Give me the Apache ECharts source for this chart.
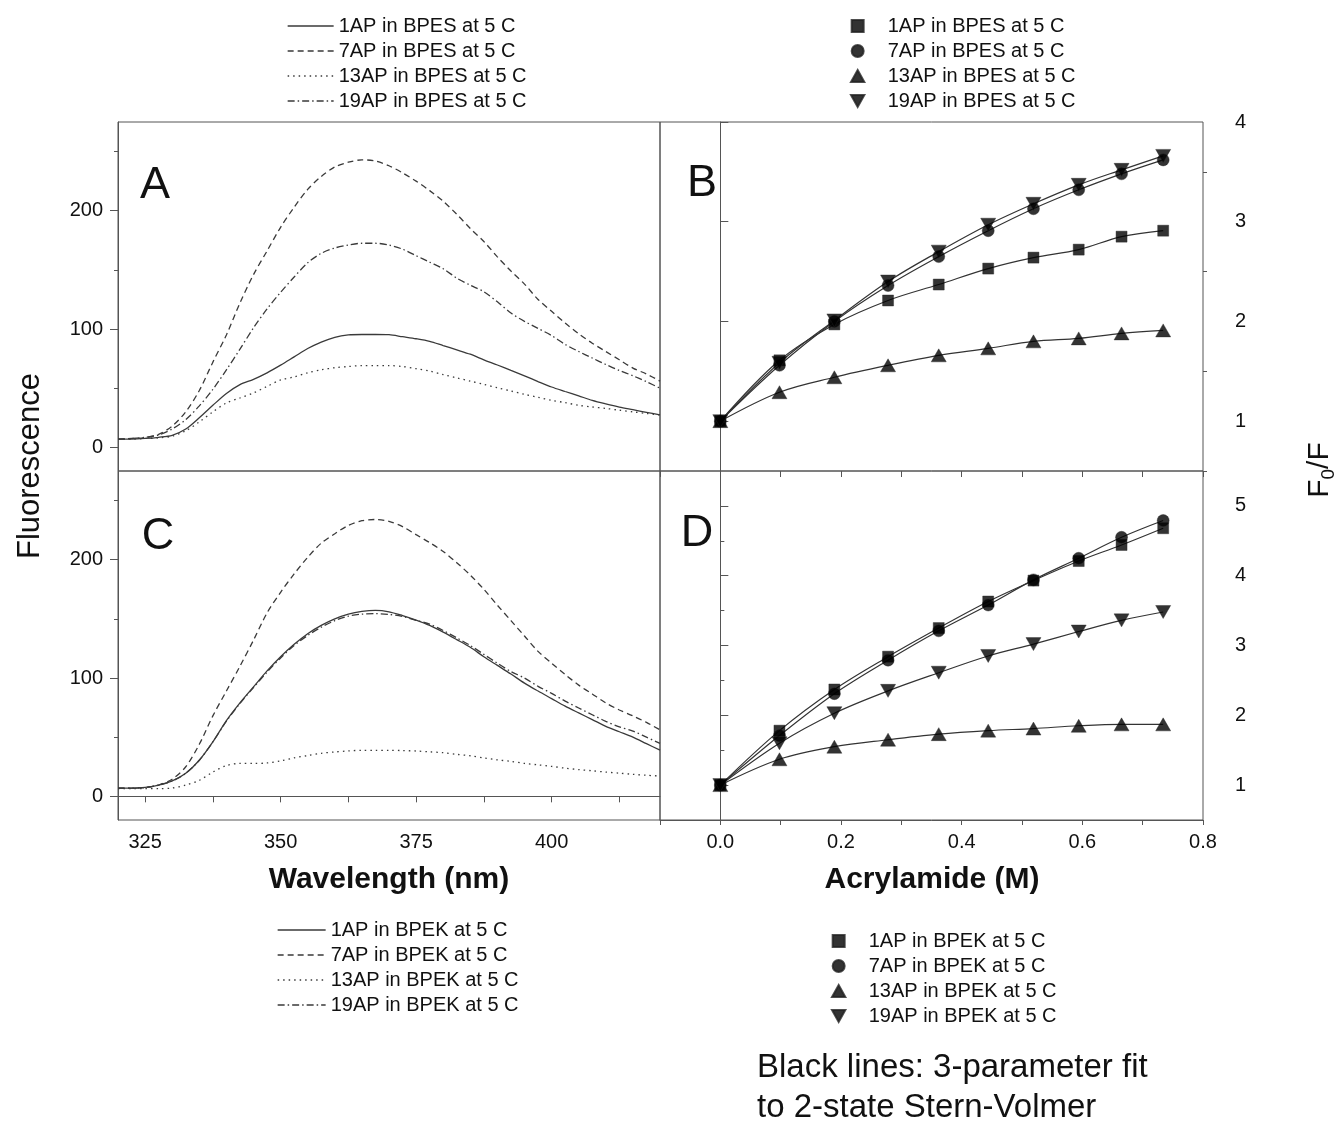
<!DOCTYPE html>
<html>
<head>
<meta charset="utf-8">
<script src="https://cdn.jsdelivr.net/npm/echarts@6/dist/echarts.min.js"></script>
<style>
html,body{margin:0;padding:0;background:#fff;}
#chart{width:1341px;height:1125px;}
</style>
</head>
<body>
<div id="chart"></div>
<script>
// ---------- DATA ----------
const wavelength = [320,322.5,325,327.5,330,332.5,335,337.5,340,342.5,345,347.5,350,352.5,355,357.5,360,362.5,365,367.5,370,372.5,375,377.5,380,382.5,385,387.5,390,392.5,395,397.5,400,402.5,405,407.5,410,412.5,415,417.5,420];

// Panel A (BPES spectra)
const A_1AP  = [7,7,7.5,8.5,10.2,15.5,25,35.5,45.5,53,57.5,63,69.5,76.5,83.5,89,93,95,95.4,95.4,95.2,93.5,91.8,89.6,86,82.4,78.7,74,69.6,65,60.4,55.6,51,47.2,43.5,39.7,36.7,34,31.8,29.6,27.4];
const A_7AP  = [7,7.5,8,11,18,30,48,72,95,122,146,166,186,203,218,229,237,241,243,242,238,232,225,217,208,197,185,174,161,149,138,125,115,105,96,88,81,74,67,62,56];
const A_13AP = [7,7,7.5,8,9.5,14,21.5,30,37.5,41.7,46,51.5,57,59.5,63,65.5,67.3,68.3,69.1,69.1,69.1,68.3,66.5,64.5,61.5,58.7,56,53.2,50.4,47.6,44.8,42.3,39.7,37.8,35.5,34.1,32.9,31.4,30,28.6,27.4];
const A_19AP = [7,7.5,8.5,10.5,15.5,23.5,35,49,65.5,83,101,117,131,144,156,164,168.5,171,172.5,172.5,171,167.5,162,156.5,151,143,137,131.5,123,113.5,106.5,100.5,94.5,87,81,75.5,70,65,60.5,55.5,50];

// Panel C (BPEK spectra)
const C_1AP  = [7,7,7.5,9.5,13,19.5,30.5,46,64,79,92.5,106,118,128.5,137.5,144.5,150,154,156.3,157.2,156,152.8,149,144.5,138.8,132.5,126,118,110.7,103.4,95.7,89,82.6,76.2,70.5,64.9,59.2,54.6,50,44.5,39.1];
const C_7AP  = [7,7,7.5,9.5,14.5,25,44,68,89,110,132,155,172.5,188,202,214,222,229,233,234,232.5,228,221.2,214.5,207,197.5,187,175,161.5,148.5,135.5,122.5,112.5,103,94,86.5,79,73,68,62.5,56.2];
const C_13AP = [6.5,6.5,6.5,6.5,7,9.5,13.5,20.5,26,27.8,27.8,28.2,30,32.5,34.5,36.4,37.5,38.4,38.9,38.9,38.9,38.7,38.3,37.6,36.9,35.5,34.3,32.5,30.8,29.6,27.8,26.6,25.3,23.8,22.6,21.6,20.5,19.6,18.6,17.8,17.2];
const C_19AP = [7,7,7.5,9.5,13,19.5,30.5,46,63.5,78.5,92,105,117,127.5,136,143,148.5,152.3,154,154.4,153.8,152,148.8,145.5,140.2,134,127.5,120,112.5,105.5,100,93,87,80.5,74.7,69,63.4,58.7,55.2,50,44.8];

// Panels B and D (Stern-Volmer)
const acrylamide = [0,0.098,0.189,0.278,0.362,0.444,0.519,0.594,0.665,0.734];
const B_1AP  = [1,1.61,1.97,2.21,2.37,2.53,2.64,2.72,2.85,2.91];
const B_7AP  = [1,1.56,2.0,2.36,2.65,2.91,3.13,3.32,3.48,3.62];
const B_13AP = [1,1.29,1.44,1.56,1.66,1.73,1.80,1.83,1.88,1.91];
const B_19AP = [1,1.585,2.01,2.40,2.70,2.97,3.18,3.37,3.52,3.66];
const D_1AP  = [1,1.78,2.37,2.84,3.25,3.63,3.93,4.21,4.44,4.68];
const D_7AP  = [1,1.71,2.31,2.79,3.21,3.58,3.94,4.25,4.55,4.79];
const D_13AP = [1,1.37,1.55,1.65,1.73,1.78,1.81,1.85,1.87,1.87];
const D_19AP = [1,1.60,2.03,2.35,2.61,2.85,3.02,3.20,3.36,3.48];

// labels
const probes = ['1AP','7AP','13AP','19AP'];
const bpesNames = probes.map(p => p + ' in BPES at 5 C');
const bpekNames = probes.map(p => p + ' in BPEK at 5 C');
const wlLabelTicks = [325,350,375,400];
const wlMinorTicks = [325,337.5,350,362.5,375,387.5,400,412.5];
const fluorMajor = [0,100,200];
const fluorMinor = [50,150,250];
const bMajor = [1,2,3,4];
const dMajor = [1,2,3,4,5];
const acrLabels = [0,0.2,0.4,0.6,0.8];

// ---------- STYLE ----------
const FONT = '"Liberation Sans", Arial, Helvetica, sans-serif';
const LINE_COL = '#3a3a3a';
const AXIS_COL = '#555';
const lineTypes = ['solid', [6,4], [1.5,4], [7,3,1.5,3]];
const symbols = ['rect','circle','triangle','path://M0,0L10,0L5,9Z'];
const symSizes = [11,12,[15,13],[15,13]];
const legendIcons = ['path://M0,0H10V10H0Z','circle','path://M5,0L10,9L0,9Z','path://M0,0L10,0L5,9Z'];

const spectraA = [A_1AP, A_7AP, A_13AP, A_19AP];
const spectraC = [C_1AP, C_7AP, C_13AP, C_19AP];
const svB = [B_1AP, B_7AP, B_13AP, B_19AP];
const svD = [D_1AP, D_7AP, D_13AP, D_19AP];

const zip = (xs, ys) => xs.map((x, i) => [x, ys[i]]);
const keyed = (panel, name) => panel + '|' + name;

const series = [];
spectraA.forEach((ys, i) => series.push({
  type: 'line', name: keyed('A', bpesNames[i]), xAxisIndex: 0, yAxisIndex: 0,
  data: zip(wavelength, ys), symbol: 'none', smooth: 0.3, z: 3,
  lineStyle: { color: LINE_COL, width: 1.3, type: lineTypes[i] }, itemStyle: { color: LINE_COL }
}));
spectraC.forEach((ys, i) => series.push({
  type: 'line', name: keyed('C', bpekNames[i]), xAxisIndex: 2, yAxisIndex: 4,
  data: zip(wavelength, ys), symbol: 'none', smooth: 0.3, z: 3,
  lineStyle: { color: LINE_COL, width: 1.3, type: lineTypes[i] }, itemStyle: { color: LINE_COL }
}));
[[svB, 'B', bpesNames, 1, 2], [svD, 'D', bpekNames, 4, 6]].forEach(([sets, panel, names, xi, yi]) => {
  sets.forEach((ys, i) => {
    series.push({
      type: 'line', name: keyed(panel + 'fit', names[i]), xAxisIndex: xi, yAxisIndex: yi,
      data: zip(acrylamide, ys), symbol: 'none', smooth: 0.35, z: 2,
      lineStyle: { color: '#333', width: 1.2 }, itemStyle: { color: '#333' }
    });
    series.push({
      type: 'scatter', name: keyed(panel, names[i]), xAxisIndex: xi, yAxisIndex: yi,
      data: zip(acrylamide, ys), symbol: symbols[i], symbolSize: symSizes[i], z: 4,
      itemStyle: { color: '#000', borderColor: '#222', borderWidth: 0.5 }
    });
  });
});

const gridBox = { show: true, borderColor: AXIS_COL, borderWidth: 1, backgroundColor: 'transparent', containLabel: false };
const grids = [
  Object.assign({ left: 118, top: 122, width: 542, height: 349 }, gridBox),
  Object.assign({ left: 660, top: 122, width: 543, height: 349 }, gridBox),
  Object.assign({ left: 118, top: 471, width: 542, height: 349 }, gridBox),
  Object.assign({ left: 660, top: 471, width: 543, height: 349 }, gridBox)
];

const hidden = { axisLine: { show: false }, axisTick: { show: false }, axisLabel: { show: false }, splitLine: { show: false } };
const tickLabel = { color: '#111', fontSize: 20, fontFamily: FONT };

const xAxis = [
  Object.assign({ type: 'value', gridIndex: 0, min: 320, max: 420 }, hidden),
  Object.assign({ type: 'value', gridIndex: 1, min: -0.1, max: 0.8 }, hidden),
  { type: 'value', gridIndex: 2, min: 320, max: 420, position: 'bottom',
    axisLine: { show: true, lineStyle: { color: AXIS_COL } }, splitLine: { show: false },
    axisTick: { show: true, inside: false, length: 5, customValues: wlMinorTicks, lineStyle: { color: AXIS_COL } },
    axisLabel: Object.assign({ show: true, margin: 12, customValues: wlLabelTicks, formatter: v => String(v) }, tickLabel) },
  { type: 'value', gridIndex: 2, min: 320, max: 420, position: 'top',
    axisLine: { show: false }, splitLine: { show: false }, axisLabel: { show: false },
    axisTick: { show: true, inside: true, length: 6, customValues: wlMinorTicks, lineStyle: { color: AXIS_COL } } },
  { type: 'value', gridIndex: 3, min: -0.1, max: 0.8, interval: 0.1, position: 'bottom',
    axisLine: { show: true, lineStyle: { color: AXIS_COL } }, splitLine: { show: false },
    axisTick: { show: true, inside: false, length: 5, lineStyle: { color: AXIS_COL } },
    axisLabel: Object.assign({ show: true, margin: 12, customValues: acrLabels, formatter: v => Number(v).toFixed(1) }, tickLabel) },
  { type: 'value', gridIndex: 3, min: -0.1, max: 0.8, interval: 0.1, position: 'top',
    axisLine: { show: false }, splitLine: { show: false }, axisLabel: { show: false },
    axisTick: { show: true, inside: true, length: 6, lineStyle: { color: AXIS_COL } } }
];

function yPair(grid, pos, min, max, major, minorVals, margin) {
  return [
    { type: 'value', gridIndex: grid, min: min, max: max, position: pos,
      axisLine: { show: true, lineStyle: { color: AXIS_COL } }, splitLine: { show: false },
      axisTick: { show: true, inside: false, length: 8, customValues: major, lineStyle: { color: AXIS_COL } },
      axisLabel: Object.assign({ show: true, margin: margin, customValues: major, formatter: v => String(Math.round(v)) }, tickLabel) },
    { type: 'value', gridIndex: grid, min: min, max: max, position: pos,
      axisLine: { show: false }, splitLine: { show: false }, axisLabel: { show: false },
      axisTick: { show: true, inside: false, length: 4, customValues: minorVals, lineStyle: { color: AXIS_COL } } }
  ];
}
const yAxis = [].concat(
  yPair(0, 'left', -20, 275, fluorMajor, fluorMinor, 15),
  yPair(1, 'right', 0.5, 4, bMajor, [0.5,1.5,2.5,3.5], 32),
  yPair(2, 'left', -20, 275, fluorMajor, fluorMinor, 15),
  yPair(3, 'right', 0.5, 5.5, dMajor, [1.5,2.5,3.5,4.5], 32)
);

const legendText = { color: '#111', fontSize: 20, fontFamily: FONT, lineHeight: 20 };
const legendBase = { orient: 'vertical', padding: 0, itemGap: 5, selectedMode: false,
  textStyle: legendText, formatter: n => n.split('|')[1] };
const lineLegend = { itemStyle: { opacity: 0 }, lineStyle: { width: 1.3 } };
const markerItems = (panel, names) => names.map((n, i) => ({ name: keyed(panel, n), icon: legendIcons[i] }));
const legend = [
  Object.assign({ left: 287, top: 16, itemWidth: 46, itemHeight: 12, data: bpesNames.map(n => keyed('A', n)) }, legendBase, lineLegend),
  Object.assign({ left: 850, top: 16, itemWidth: 50, itemHeight: 12, data: markerItems('B', bpesNames) }, legendBase),
  Object.assign({ left: 277, top: 920, itemWidth: 48, itemHeight: 12, data: bpekNames.map(n => keyed('C', n)) }, legendBase, lineLegend),
  Object.assign({ left: 831, top: 931, itemWidth: 50, itemHeight: 12, data: markerItems('D', bpekNames) }, legendBase)
];

function txt(x, y, text, size, opts) {
  return Object.assign({ type: 'text', x: x, y: y, silent: true,
    style: Object.assign({ text: text, fontSize: size, fontFamily: FONT, fill: '#111', align: 'center', verticalAlign: 'middle' }, (opts && opts.style) || {}) },
    (opts && opts.el) || {});
}
const graphic = [
  txt(155, 186, 'A', 45),
  txt(702, 184, 'B', 45),
  txt(158, 537, 'C', 45),
  txt(697, 534, 'D', 45),
  txt(389, 880, 'Wavelength (nm)', 30, { style: { fontWeight: 'bold' } }),
  txt(932, 880, 'Acrylamide (M)', 30, { style: { fontWeight: 'bold' } }),
  txt(30, 466, 'Fluorescence', 31, { el: { rotation: Math.PI / 2 } }),
  { type: 'text', x: 1320, y: 470, rotation: Math.PI / 2, silent: true,
    style: { text: '{n|F}{s|0}{n|/F}', align: 'center', verticalAlign: 'middle', fill: '#111', fontFamily: FONT,
      rich: { n: { fontSize: 30, lineHeight: 36, fontFamily: FONT, fill: '#111' },
              s: { fontSize: 19, lineHeight: 19, verticalAlign: 'bottom', fontFamily: FONT, fill: '#111' } } } },
  txt(757, 1068, 'Black lines: 3-parameter fit', 33, { style: { align: 'left' } }),
  txt(757, 1108, 'to 2-state Stern-Volmer', 33, { style: { align: 'left' } })
];

const chart = echarts.init(document.getElementById('chart'), null, { renderer: 'canvas' });
chart.setOption({
  backgroundColor: '#fff',
  animation: false,
  textStyle: { fontFamily: FONT },
  grid: grids, xAxis: xAxis, yAxis: yAxis, legend: legend, series: series, graphic: graphic
});
</script>
</body>
</html>
